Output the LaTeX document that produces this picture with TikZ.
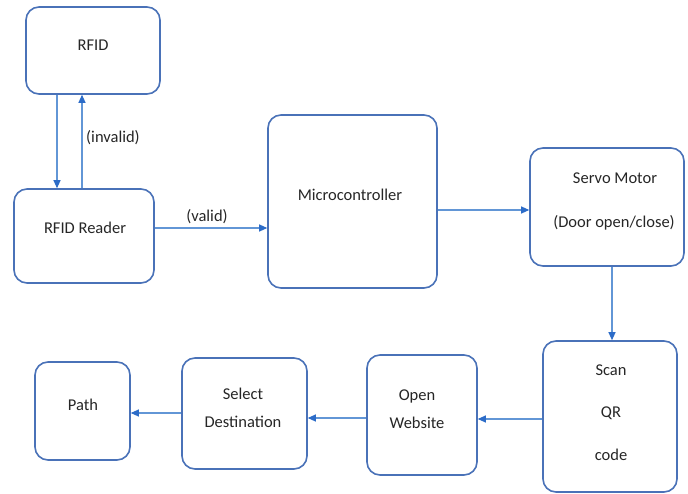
\documentclass[tikz,border=0pt]{standalone}
\usepackage{fontspec}
\setmainfont{Carlito}
\usetikzlibrary{arrows.meta}
\definecolor{boxblue}{RGB}{74,114,184}
\definecolor{linkblue}{RGB}{98,150,214}
\definecolor{tipblue}{RGB}{44,108,200}
\definecolor{txt}{RGB}{38,38,38}
\tikzset{
  box/.style={draw=boxblue, line width=1.6pt, rounded corners=13pt, fill=white, inner sep=0pt},
  lbl/.style={text=txt, font=\fontsize{16.5}{19}\selectfont, inner sep=0pt, anchor=center},
  arr/.style={draw=linkblue, line width=1.1pt, -{Triangle[length=8pt,width=7pt,fill=tipblue,color=tipblue]}},
}
\begin{document}
\begin{tikzpicture}[x=1pt,y=-1pt]
\useasboundingbox (0,0) rectangle (688,494);
% boxes
\node[box, minimum width=134pt, minimum height=87pt] (rfid) at (93,50.5) {};
\node[box, minimum width=140pt, minimum height=94pt] (reader) at (84,236) {};
\node[box, minimum width=169pt, minimum height=173pt] (micro) at (352.5,201.5) {};
\node[box, minimum width=154pt, minimum height=118pt] (servo) at (607,207) {};
\node[box, minimum width=134pt, minimum height=151pt] (scan) at (610,416.5) {};
\node[box, minimum width=110pt, minimum height=120pt] (open) at (422,415) {};
\node[box, minimum width=125pt, minimum height=111pt] (select) at (244.5,413.5) {};
\node[box, minimum width=95pt, minimum height=98pt] (path) at (82.5,411) {};
% texts
\node[lbl] (trfid) at (93,45) {RFID};
\node[lbl] (treader) at (85,228) {RFID Reader};
\node[lbl] (tmicro) at (350,195) {Microcontroller};
\node[lbl] (tservo1) at (615,178) {Servo Motor};
\node[lbl] (tservo2) at (614,223) {(Door open/close)};
\node[lbl] (tscan1) at (611,370) {Scan};
\node[lbl] (tscan2) at (611,413) {QR};
\node[lbl] (tscan3) at (611,455) {code};
\node[lbl] (topen1) at (417,396) {Open};
\node[lbl] (topen2) at (417,423) {Website};
\node[lbl] (tsel1) at (243,394) {Select};
\node[lbl] (tsel2) at (243,422) {Destination};
\node[lbl] (tpath) at (83,405) {Path};
\node[lbl] (tinvalid) at (113,138) {(invalid)};
\node[lbl] (tvalid) at (207,217) {(valid)};
% connectors
\draw[arr] (rfid.south -| 57,0) -- (reader.north -| 57,0);
\draw[arr] (reader.north -| 82,0) -- (rfid.south -| 82,0);
\draw[arr] (reader.east |- 0,228) -- (micro.west |- 0,228);
\draw[arr] (micro.east |- 0,210) -- (servo.west |- 0,210);
\draw[arr] (servo.south -| 612,0) -- (scan.north -| 612,0);
\draw[arr] (scan.west |- 0,419) -- (open.east |- 0,419);
\draw[arr] (open.west |- 0,418) -- (select.east |- 0,418);
\draw[arr] (select.west |- 0,413) -- (path.east |- 0,413);
\end{tikzpicture}
\end{document}
